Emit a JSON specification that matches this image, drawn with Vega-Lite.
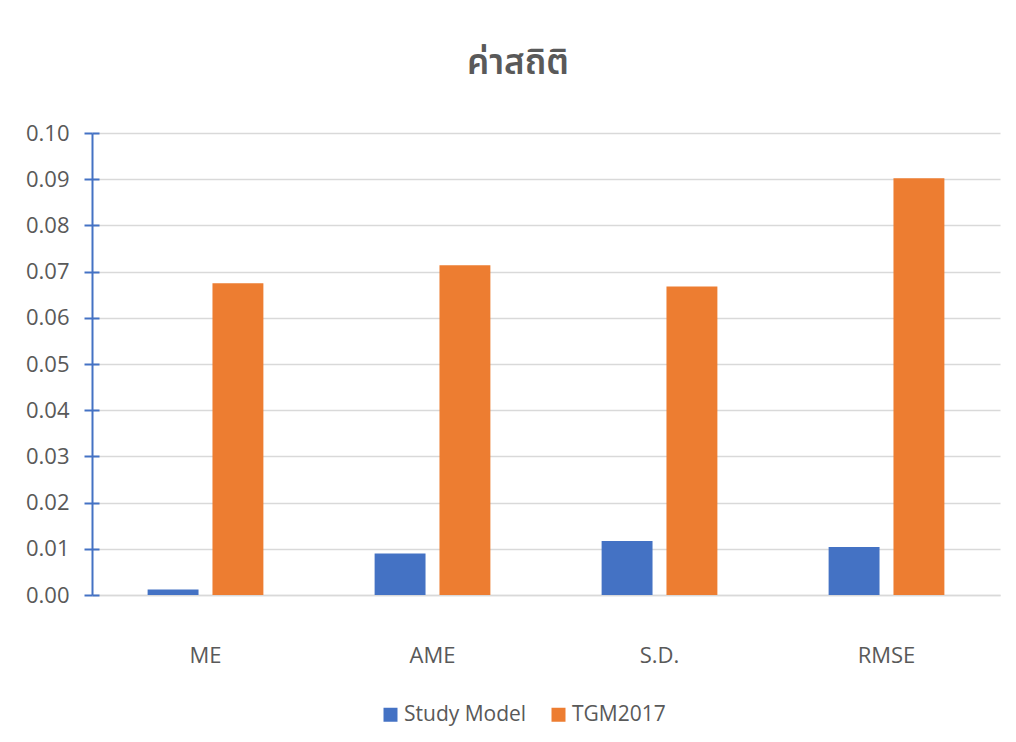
{
  "$schema": "https://vega.github.io/schema/vega-lite/v6.json",
  "autosize": {"type": "none"},
  "padding": {"left": 92, "top": 133, "right": 16, "bottom": 147},
  "width": 908,
  "height": 462,
  "background": "white",
  "title": {
    "text": "ค่าสถิติ",
    "anchor": "middle",
    "frame": "group",
    "dx": -28,
    "offset": 13,
    "baseline": "alphabetic",
    "font": "Noto Sans Thai, Noto Sans, sans-serif",
    "fontSize": 35,
    "fontWeight": 600,
    "color": "#595959"
  },
  "data": {
    "values": [
      {"stat": "ME", "series": "Study Model", "value": 0.0012},
      {"stat": "ME", "series": "TGM2017", "value": 0.0675},
      {"stat": "AME", "series": "Study Model", "value": 0.0090},
      {"stat": "AME", "series": "TGM2017", "value": 0.0714},
      {"stat": "S.D.", "series": "Study Model", "value": 0.0117},
      {"stat": "S.D.", "series": "TGM2017", "value": 0.0668},
      {"stat": "RMSE", "series": "Study Model", "value": 0.0104},
      {"stat": "RMSE", "series": "TGM2017", "value": 0.0902}
    ]
  },
  "layer": [
    {
      "mark": {"type": "bar"},
      "encoding": {
        "x": {
          "field": "stat",
          "type": "nominal",
          "sort": ["ME", "AME", "S.D.", "RMSE"],
          "scale": {"paddingInner": 0.49, "paddingOuter": 0.245},
          "axis": {
            "title": null,
            "labelAngle": 0,
            "labelPadding": 50,
            "ticks": false,
            "domainColor": "#D9D9D9",
            "domainWidth": 1.5,
            "labelFontSize": 22,
            "labelColor": "#595959",
            "labelFont": "Open Sans"
          }
        },
        "xOffset": {
          "field": "series",
          "type": "nominal",
          "scale": {"paddingInner": 0.215, "paddingOuter": 0}
        },
        "y": {
          "field": "value",
          "type": "quantitative",
          "scale": {"domain": [0, 0.1], "nice": false},
          "axis": {
            "title": null,
            "orient": "left",
            "values": [0, 0.01, 0.02, 0.03, 0.04, 0.05, 0.06, 0.07, 0.08, 0.09, 0.1],
            "format": ".2f",
            "grid": true,
            "gridColor": "#D9D9D9",
            "gridWidth": 1.5,
            "domainColor": "#4472C4",
            "domainWidth": 2,
            "tickColor": "#4472C4",
            "tickWidth": 2,
            "tickSize": 8,
            "labelPadding": 15,
            "labelFontSize": 22,
            "labelColor": "#595959",
            "labelFont": "Open Sans"
          }
        },
        "color": {
          "field": "series",
          "type": "nominal",
          "scale": {"domain": ["Study Model", "TGM2017"], "range": ["#4472C4", "#ED7D31"]},
          "legend": {
            "title": null,
            "orient": "none",
            "direction": "horizontal",
            "legendX": 288,
            "legendY": 571,
            "symbolType": "square",
            "symbolSize": 196,
            "symbolStrokeWidth": 0,
            "labelFontSize": 21,
            "labelColor": "#595959",
            "labelFont": "Open Sans",
            "labelOffset": 3,
            "columnPadding": 21
          }
        }
      }
    },
    {
      "mark": {"type": "tick", "opacity": 0},
      "encoding": {
        "y": {
          "field": "value",
          "type": "quantitative",
          "axis": {
            "title": null,
            "orient": "left",
            "values": [0, 0.01, 0.02, 0.03, 0.04, 0.05, 0.06, 0.07, 0.08, 0.09, 0.1],
            "labels": false,
            "grid": false,
            "domain": false,
            "tickColor": "#4472C4",
            "tickWidth": 2,
            "tickSize": -7
          }
        }
      }
    }
  ],
  "resolve": {"axis": {"y": "independent"}},
  "config": {"view": {"stroke": null}}
}
